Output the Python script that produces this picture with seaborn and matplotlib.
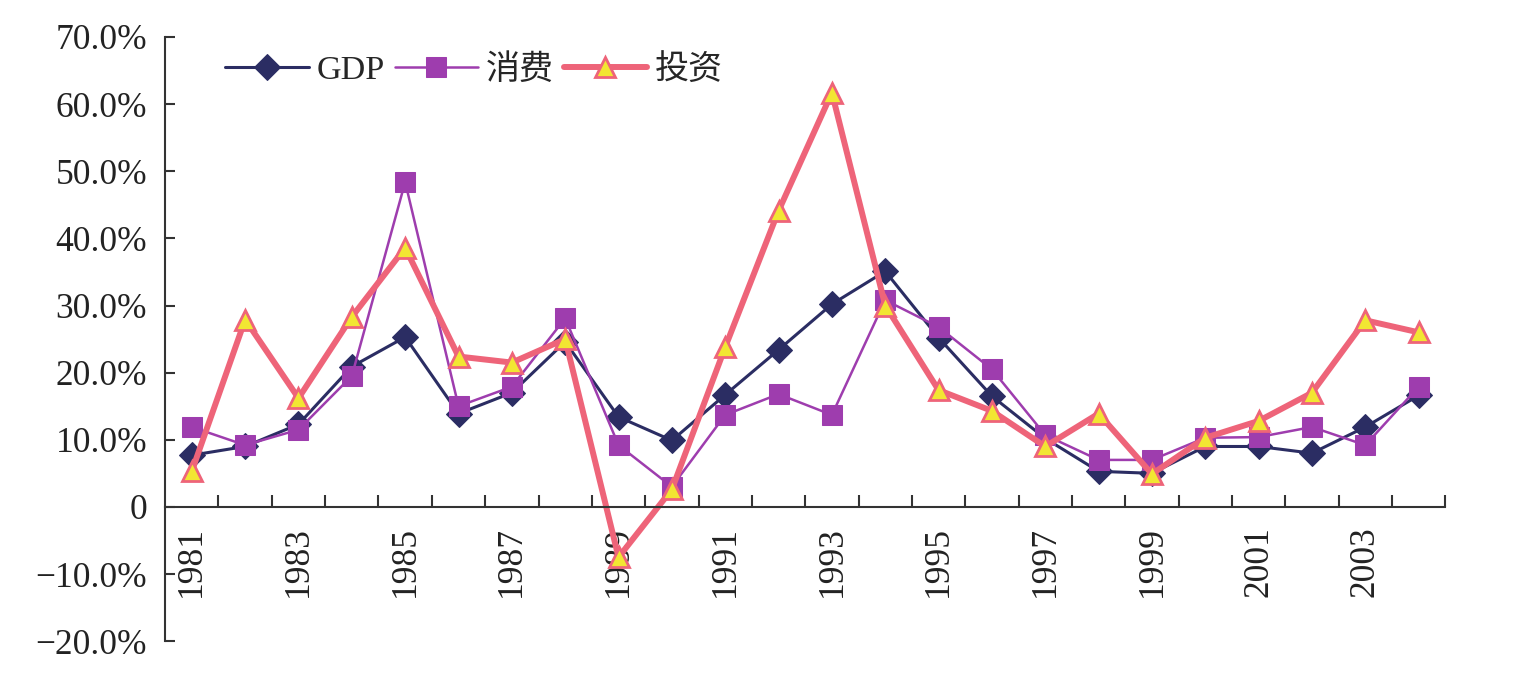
import matplotlib
matplotlib.use("Agg")
import matplotlib.pyplot as plt
from matplotlib.ticker import FixedLocator, FuncFormatter
import pandas as pd
import seaborn as sns

# -----------------------------------
# DATA (growth rates, %)
# -----------------------------------

years = list(range(1981, 2005))
gdp = [7.7, 9.0, 12.3, 20.9, 25.3, 13.9, 17.0, 24.6, 13.4, 9.9, 16.7, 23.4,
       30.2, 35.1, 25.2, 16.5, 10.2, 5.3, 5.0, 9.0, 9.0, 8.0, 11.9, 16.6]
consumption = [11.9, 9.2, 11.5, 19.5, 48.4, 15.0, 17.9, 28.1, 9.2, 3.0, 13.7, 16.8,
               13.7, 30.8, 26.8, 20.5, 10.7, 7.0, 7.0, 10.3, 10.4, 11.9, 9.2, 17.9]
investment = [5.3, 27.9, 16.2, 28.3, 38.6, 22.4, 21.5, 25.0, -7.5, 2.6, 23.8, 44.1,
              61.7, 30.0, 17.4, 14.3, 9.0, 13.9, 4.9, 10.3, 12.8, 17.0, 27.8, 26.0]
labels = ["GDP", "消费", "投资"]

df = pd.DataFrame({"year": years, "gdp": gdp, "consumption": consumption,
                   "investment": investment})

# -----------------------------------
# STYLE
# -----------------------------------

sns.set_theme(style="white")
plt.rcParams["font.family"] = ["Liberation Serif", "Noto Sans CJK SC"]
plt.rcParams["axes.unicode_minus"] = True

fig = plt.figure(figsize=(15.15, 6.85), dpi=100)
ax = fig.add_axes([0.109, 0.064, 0.845, 0.882])

# -----------------------------------
# LINES
# -----------------------------------

sns.lineplot(data=df, x="year", y="gdp", ax=ax, color="#2B2D63", linewidth=2.2,
             marker="D", markersize=13, markeredgecolor="#2B2D63",
             markerfacecolor="#2B2D63", label=labels[0])
sns.lineplot(data=df, x="year", y="consumption", ax=ax, color="#9E3DAE", linewidth=1.8,
             marker="s", markersize=14, markeredgecolor="#9E3DAE",
             markerfacecolor="#9E3DAE", label=labels[1])
sns.lineplot(data=df, x="year", y="investment", ax=ax, color="#EE6479", linewidth=4.3,
             marker="^", markersize=14, markeredgecolor="#EE6479", markeredgewidth=2,
             markerfacecolor="#F2E632", label=labels[2])

# -----------------------------------
# AXES
# -----------------------------------

ax.set_xlim(years[0] - 0.5, years[-1] + 0.5)
ax.set_ylim(-20, 70)
ax.set_xlabel("")
ax.set_ylabel("")

for s in ["top", "right"]:
    ax.spines[s].set_visible(False)
ax.spines["bottom"].set_position(("data", 0))
for s in ["left", "bottom"]:
    ax.spines[s].set_color("#333333")
    ax.spines[s].set_linewidth(1.5)

ax.yaxis.set_major_locator(FixedLocator(range(-20, 71, 10)))
ax.yaxis.set_major_formatter(FuncFormatter(
    lambda v, p: "0" if v == 0 else f"{v:.1f}%".replace("-", "\u2212")))
ax.tick_params(axis="y", left=True, direction="in", length=7, width=1.5,
               color="#333333", labelsize=25.5, pad=13, labelcolor="#222222")

ax.xaxis.set_major_locator(FixedLocator(years[::2]))
ax.xaxis.set_major_formatter(FuncFormatter(lambda v, p: str(int(round(v)))))
ax.xaxis.set_minor_locator(FixedLocator([y + 0.5 for y in years]))
ax.tick_params(axis="x", which="major", bottom=True, length=0, labelsize=25.5,
               pad=14, labelrotation=90, labelcolor="#222222")
ax.tick_params(axis="x", which="minor", bottom=True, direction="in", length=9,
               width=1.5, color="#333333")
for t in ax.get_xticklabels():
    t.set_verticalalignment("top")

ax.grid(False)

ax.legend(loc="center left", bbox_to_anchor=(0.047, 0.945), ncol=3, frameon=False,
          fontsize=24.5, handlelength=2.45, handletextpad=0.22, columnspacing=0.3,
          borderaxespad=0, borderpad=0)

fig.savefig("out.png", dpi=100, facecolor="white")
